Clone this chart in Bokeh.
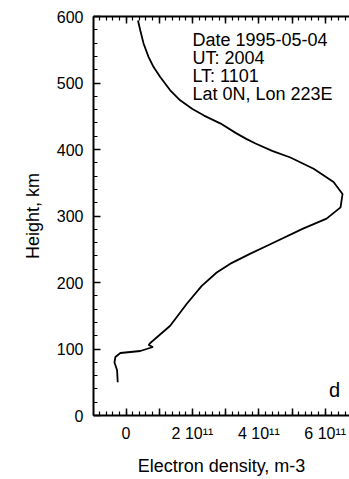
import numpy as np
from bokeh.plotting import figure
from bokeh.models import Label, LinearAxis, FixedTicker, Range1d
from bokeh.embed import file_html
from bokeh.resources import INLINE

# Electron density profile (units of 1e11 m^-3) vs height (km)
height_km = [594, 579, 559, 539, 524, 509, 489, 474, 461, 451, 439, 425, 416,
             409, 398, 388, 371, 351, 333, 313, 296, 281, 256, 243, 228, 215,
             195, 168, 135, 109, 106, 103, 97, 94, 88, 80, 68, 50]
density_1e11 = [0.36, 0.43, 0.53, 0.68, 0.83, 1.03, 1.33, 1.63, 2.0, 2.35, 2.85,
                3.3, 3.62, 3.9, 4.4, 4.95, 5.65, 6.25, 6.52, 6.46, 6.04, 5.33,
                4.28, 3.73, 3.13, 2.73, 2.28, 1.83, 1.33, 0.73, 0.68, 0.81,
                0.43, -0.17, -0.32, -0.35, -0.27, -0.25]

x_major_ticks = [-1, 0, 1, 2, 3, 4, 5, 6]
x_tick_labels = {-1: "", 0: "0", 1: "", 2: "2 10\u00b9\u00b9", 3: "",
                 4: "4 10\u00b9\u00b9", 5: "", 6: "6 10\u00b9\u00b9"}
y_major_ticks = [0, 100, 200, 300, 400, 500, 600]

info_lines = ["Date 1995-05-04", "UT: 2004", "LT: 1101", "Lat 0N, Lon 223E"]
panel_letter = "d"

FONT = "Liberation Sans"

p = figure(width=349, height=479, output_backend="svg", toolbar_location=None,
           x_range=Range1d(-0.98, 6.73), y_range=Range1d(0, 600),
           min_border_left=93, min_border_right=0, min_border_top=16,
           min_border_bottom=64)
p.outline_line_color = None
p.xgrid.visible = False
p.ygrid.visible = False
p.background_fill_color = "white"
p.border_fill_color = "white"

x_minor = [round(v, 2) for v in np.arange(-1.0, 6.8, 0.2)]
y_minor = list(range(0, 601, 20))
xticker = FixedTicker(ticks=x_major_ticks, minor_ticks=x_minor)
yticker = FixedTicker(ticks=y_major_ticks, minor_ticks=y_minor)

p.line(density_1e11, height_km, line_color="black", line_width=1.8)

def style_axis(ax):
    ax.axis_line_color = "black"
    ax.axis_line_width = 2
    ax.major_tick_line_color = "black"
    ax.minor_tick_line_color = "black"
    ax.major_tick_line_width = 1.5
    ax.minor_tick_line_width = 1.2
    ax.major_tick_in = 7
    ax.major_tick_out = 0
    ax.minor_tick_in = 4
    ax.minor_tick_out = 0
    ax.major_label_text_font = FONT
    ax.major_label_text_font_size = "16px"
    ax.major_label_text_color = "black"
    ax.axis_label_text_font = FONT
    ax.axis_label_text_font_size = "18px"
    ax.axis_label_text_font_style = "normal"
    ax.axis_label_text_color = "black"

xa = p.xaxis[0]
xa.ticker = xticker
xa.major_label_overrides = x_tick_labels
xa.axis_label = "Electron density, m-3"
style_axis(xa)
xa.major_label_standoff = 9
xa.axis_label_standoff = 11

ya = p.yaxis[0]
ya.ticker = yticker
ya.axis_label = "Height, km"
style_axis(ya)
ya.major_label_standoff = 10
ya.axis_label_standoff = 11

top = LinearAxis(ticker=xticker,
                 major_label_overrides={t: "" for t in x_major_ticks})
style_axis(top)
top.major_label_standoff = 0
p.add_layout(top, "above")

line_y = [564, 537.6, 510.5, 484.2]
for txt, yy in zip(info_lines, line_y):
    p.add_layout(Label(x=2.0, y=yy, text=txt, text_font=FONT,
                       text_font_size="18px", text_color="black",
                       text_baseline="alphabetic", text_align="left"))

p.add_layout(Label(x=6.28, y=37.6, text=panel_letter, text_font=FONT,
                   text_font_size="20px", text_color="black",
                   text_baseline="middle", text_align="center"))

open("out.html", "w").write(file_html(p, INLINE))
